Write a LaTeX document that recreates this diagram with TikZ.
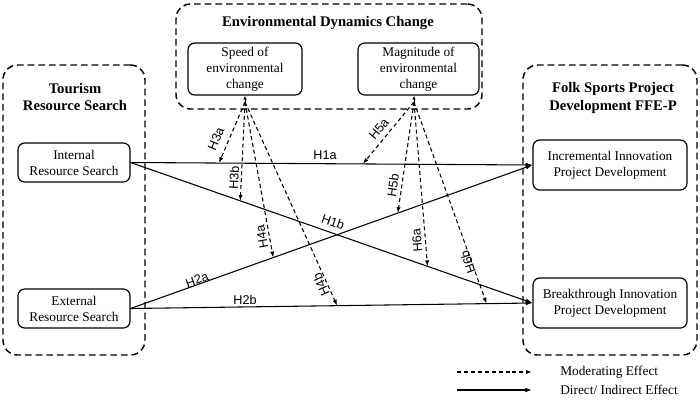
\documentclass[tikz,border=0pt]{standalone}
\usepackage{fontspec}
\setmainfont{Liberation Serif}
\newfontfamily\lblfont{Liberation Sans}
\usetikzlibrary{arrows.meta}
\begin{document}
\begin{tikzpicture}[x=0.75pt,y=-0.75pt,
  grp/.style={draw,line width=1.1pt,rounded corners=11pt,dash pattern=on 5pt off 3pt,inner sep=0pt},
  box/.style={draw,line width=0.9pt,rounded corners=5pt,align=center,inner sep=0pt,
    font=\fontsize{10}{12}\selectfont},
  ttl/.style={align=center,font=\bfseries\fontsize{11}{13}\selectfont,inner sep=0pt},
  lbl/.style={font=\lblfont\fontsize{9.5}{11}\selectfont,inner sep=0pt},
  eff/.style={line width=0.8pt,-{Latex[length=5pt,width=3.5pt]}},
  mod/.style={line width=0.8pt,dash pattern=on 3pt off 2.2pt,-{Latex[length=4.5pt,width=3.2pt]}},
  leg/.style={font=\fontsize{10}{12}\selectfont,inner sep=0pt,anchor=west}]
\useasboundingbox (0,0) rectangle (700,404);
% group boxes
\node[grp,minimum width=229.5pt,minimum height=78.75pt] (env) at (329,56.5) {};
\node[grp,minimum width=106.5pt,minimum height=217.5pt] (tou) at (74,210) {};
\node[grp,minimum width=130.5pt,minimum height=217.5pt] (folk) at (610,210) {};
% titles
\node[ttl] (envt) at (328,23) {Environmental Dynamics Change};
\node[ttl] (tout) at (75,97) {Tourism\\Resource Search};
\node[ttl] (folkt) at (613,98) {Folk Sports Project\\Development FFE-P};
% boxes
\node[box,minimum width=85.5pt,minimum height=39pt] (spd) at (245,69) {Speed of\\environmental\\change};
\node[box,minimum width=90.75pt,minimum height=39pt] (mag) at (418.5,69) {Magnitude of\\environmental\\change};
\node[box,minimum width=84pt,minimum height=29.25pt] (int) at (74,162.5) {Internal\\Resource Search};
\node[box,minimum width=84pt,minimum height=29.25pt] (ext) at (74,308.5) {External\\Resource Search};
\node[box,minimum width=115.5pt,minimum height=37.5pt] (inc) at (610,165) {Incremental Innovation\\Project Development};
\node[box,minimum width=115.5pt,minimum height=37.5pt] (brk) at (610,303) {Breakthrough Innovation\\Project Development};
% direct effects
\draw[eff] (int.east) -- (inc.west)
  coordinate[pos=0.22] (a1) coordinate[pos=0.578] (a2);
\draw[eff] (int.east) -- (brk.west)
  coordinate[pos=0.273] (b1) coordinate[pos=0.739] (b2);
\draw[eff] (ext.east) -- (inc.west)
  coordinate[pos=0.355] (c1) coordinate[pos=0.665] (c2);
\draw[eff] (ext.east) -- (brk.west)
  coordinate[pos=0.514] (d1) coordinate[pos=0.886] (d2);
% moderators
\coordinate (sp) at (245,102);
\coordinate (mg) at (414,102);
\draw[line width=0.6pt,-{Latex[length=3pt,width=2.5pt]}] (sp) -- (sp |- spd.south);
\draw[line width=0.6pt,-{Latex[length=3pt,width=2.5pt]}] (mg) -- (mg |- mag.south);
\draw[mod] (sp) -- (a1);
\draw[mod] (sp) -- (b1);
\draw[mod] (sp) -- (c1);
\draw[mod] (sp) -- (d1);
\draw[mod] (mg) -- (a2);
\draw[mod] (mg) -- (c2);
\draw[mod] (mg) -- (b2);
\draw[mod] (mg) -- (d2);
% labels
\node[lbl,rotate=67] (h3a) at (216,139) {H3a};
\node[lbl,rotate=87] (h3b) at (234,178) {H3b};
\node[lbl,rotate=100] (h4a) at (262,237) {H4a};
\node[lbl,rotate=114] (h4b) at (321,285) {H4b};
\node[lbl,rotate=50] (h5a) at (379,129) {H5a};
\node[lbl,rotate=82] (h5b) at (393,185) {H5b};
\node[lbl,rotate=95] (h6a) at (417,240) {H6a};
\node[lbl,rotate=110] (h6b) at (468,262) {H6b};
\node[lbl] (h1a) at (325,155) {H1a};
\node[lbl,rotate=-19.5] (h1b) at (333,222) {H1b};
\node[lbl,rotate=19.7] (h2a) at (197,280) {H2a};
\node[lbl] (h2b) at (245,300) {H2b};
% legend
\coordinate (l1s) at (457,372); \coordinate (l1e) at (532,372);
\coordinate (l2s) at (457,390); \coordinate (l2e) at (532,390);
\draw[mod] (l1s) -- (l1e);
\draw[eff] (l2s) -- (l2e);
\node[leg] (lt1) at (560,372) {Moderating Effect};
\node[leg] (lt2) at (560,390) {Direct/ Indirect Effect};
\end{tikzpicture}
\end{document}
